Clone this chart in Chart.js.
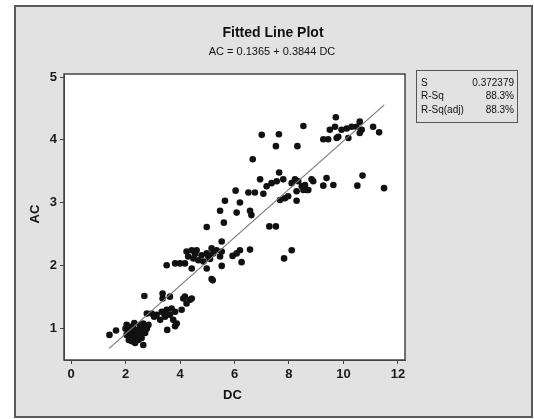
<!DOCTYPE html>
<html>
<head>
<meta charset="utf-8">
<script src="https://cdn.jsdelivr.net/npm/chart.js@4/dist/chart.umd.min.js"></script>
<style>
  body { margin: 0; background: #fff; }
  canvas { display: block; }
</style>
</head>
<body>
<canvas id="plot" width="534" height="419"></canvas>
<script>
const dc = [
  1.41, 1.65, 2.04, 2.17, 2.29, 2.10, 2.23, 2.35, 2.47, 2.17, 2.29, 2.41, 2.53, 2.04, 2.23, 2.35, 2.47, 2.65, 2.59, 2.72,
  2.78, 2.53, 2.65, 2.84, 2.17, 2.69, 3.36, 3.36, 3.63, 2.78, 2.96, 3.14, 3.33, 3.51, 3.69, 3.82, 3.63, 3.45, 3.27, 3.75,
  3.88, 3.53, 3.82, 4.12, 4.24, 4.37, 4.06, 4.18, 4.43, 2.00, 2.32, 2.40, 2.60, 2.12, 2.56, 3.05, 3.40,
  3.51, 3.82, 4.00, 4.18, 4.43, 4.24, 4.30, 4.43, 4.61, 4.49, 4.67, 4.79, 4.86, 4.98, 4.98, 5.04, 5.16, 5.22, 5.34, 5.47,
  5.53, 5.53, 5.53, 5.16, 5.20, 6.26, 6.20, 6.08, 5.93, 6.57, 4.98, 5.61, 5.47, 6.08, 6.57, 6.62, 5.65, 6.20, 6.04, 6.51,
  6.75, 6.94, 6.67, 7.28, 7.52, 7.82, 8.10, 4.55, 5.10,
  7.06, 7.18, 7.36, 7.55, 7.64, 7.79, 8.10, 8.22, 8.34, 8.47, 8.59, 8.65, 8.28, 7.97, 7.85, 7.67, 8.28, 8.53, 8.71, 8.83,
  8.89, 9.38, 9.26, 9.63, 10.51, 10.70, 11.49, 7.00, 7.63, 7.52, 8.31, 8.53, 9.72, 9.50, 9.69, 9.93, 10.12, 10.30, 10.48, 10.60,
  10.67, 11.09, 11.31, 10.60, 10.18, 9.75, 9.81, 9.26, 9.44
]
const ac = [
  0.89, 0.96, 1.05, 1.02, 0.99, 0.94, 0.92, 0.94, 0.97, 0.86, 0.84, 0.86, 0.89, 0.89, 0.79, 0.76, 0.81, 0.73, 0.84, 0.92,
  0.99, 1.05, 1.07, 1.05, 0.97, 1.51, 1.55, 1.47, 1.50, 1.23, 1.23, 1.21, 1.26, 1.29, 1.31, 1.26, 1.21, 1.18, 1.13, 1.13,
  1.07, 0.97, 1.03, 1.47, 1.39, 1.45, 1.29, 1.50, 1.47, 0.99, 1.08, 0.92, 0.96, 0.81, 1.00, 1.18, 1.24,
  2.00, 2.03, 2.03, 2.03, 1.95, 2.22, 2.14, 2.24, 2.24, 2.11, 2.08, 2.16, 2.06, 2.19, 1.95, 2.14, 2.27, 2.19, 2.24, 2.14,
  2.22, 1.99, 2.38, 1.78, 1.76, 2.05, 2.24, 2.19, 2.15, 2.25, 2.61, 2.68, 2.87, 2.84, 2.87, 2.80, 3.03, 3.00, 3.19, 3.16,
  3.16, 3.37, 3.69, 2.62, 2.62, 2.11, 2.24, 2.18, 2.10,
  3.14, 3.26, 3.31, 3.34, 3.48, 3.37, 3.31, 3.37, 3.34, 3.26, 3.28, 3.20, 3.18, 3.10, 3.07, 3.04, 3.03, 3.20, 3.20, 3.37,
  3.34, 3.39, 3.27, 3.28, 3.27, 3.43, 3.23, 4.08, 4.09, 3.90, 3.90, 4.22, 4.36, 4.16, 4.21, 4.16, 4.18, 4.21, 4.21, 4.29,
  4.16, 4.21, 4.12, 4.11, 4.03, 4.03, 4.05, 4.01, 4.01
]

const intercept = 0.1365
const slope = 0.3844
const fitRange = [1.4, 11.5]

const xTicks = [0, 2, 4, 6, 8, 10, 12]
const yTicks = [1, 2, 3, 4, 5]

const statNames = ['S', 'R-Sq', 'R-Sq(adj)']
const statValues = ['0.372379', '88.3%', '88.3%']

const tickFont = { family: 'Liberation Sans', size: 13, weight: 'bold' }

const framePlugin = {
  id: 'frame',
  beforeDraw(chart) {
    const { ctx, chartArea: a } = chart
    ctx.save()
    ctx.fillStyle = '#ffffff'
    ctx.fillRect(0, 0, chart.width, chart.height)
    ctx.fillStyle = '#e2e2e2'
    ctx.fillRect(15, 6, 517, 411)
    ctx.strokeStyle = '#5a5a5a'
    ctx.lineWidth = 2
    ctx.strokeRect(15, 6, 517, 411)
    ctx.fillStyle = '#ffffff'
    ctx.fillRect(a.left, a.top, a.right - a.left, a.bottom - a.top)
    ctx.restore()
  },
  afterDraw(chart) {
    const { ctx, chartArea: a } = chart
    ctx.save()
    ctx.strokeStyle = '#444'
    ctx.lineWidth = 1.5
    ctx.strokeRect(a.left, a.top, a.right - a.left, a.bottom - a.top)

    ctx.fillStyle = '#111'
    ctx.textAlign = 'center'
    ctx.textBaseline = 'middle'
    ctx.font = 'bold 14px "Liberation Sans"'
    ctx.fillText('Fitted Line Plot', 273, 33)
    ctx.font = '11px "Liberation Sans"'
    ctx.fillText('AC = 0.1365 + 0.3844 DC', 272, 52)

    ctx.font = 'bold 13px "Liberation Sans"'
    ctx.fillText('DC', (a.left + a.right) / 2 - 2, 395)
    ctx.save()
    ctx.translate(35, (a.top + a.bottom) / 2 - 3)
    ctx.rotate(-Math.PI / 2)
    ctx.fillText('AC', 0, 0)
    ctx.restore()

    // stats box
    ctx.strokeStyle = '#555'
    ctx.lineWidth = 1
    ctx.strokeRect(416.5, 70.5, 101, 52)
    ctx.font = '10px "Liberation Sans"'
    statNames.forEach((n, i) => {
      const y = 83 + i * 13.5
      ctx.textAlign = 'left'
      ctx.fillText(n, 421, y)
      ctx.textAlign = 'right'
      ctx.fillText(statValues[i], 514, y)
    })
    ctx.restore()
  }
}

const points = dc.map((x, i) => ({ x, y: ac[i] }))
const fitLine = fitRange.map(x => ({ x, y: intercept + slope * x }))

new Chart(document.getElementById('plot'), {
  type: 'scatter',
  data: {
    datasets: [
      {
        type: 'line',
        data: fitLine,
        borderColor: '#7a7a7a',
        borderWidth: 1.2,
        pointRadius: 0,
        order: 0
      },
      {
        data: points,
        backgroundColor: '#111',
        borderWidth: 0,
        pointRadius: 3.3,
        order: 1
      }
    ]
  },
  options: {
    responsive: false,
    animation: false,
    layout: { padding: { left: 24, top: 74, right: 129, bottom: 24 } },
    plugins: {
      legend: { display: false },
      tooltip: { enabled: false }
    },
    scales: {
      x: {
        type: 'linear',
        min: -0.26,
        max: 12.26,
        afterFit: s => { s.height = 35 },
        afterBuildTicks: s => { s.ticks = xTicks.map(v => ({ value: v })) },
        grid: { drawOnChartArea: false, drawTicks: true, tickLength: 4, color: '#444' },
        border: { display: true, color: '#444' },
        ticks: { font: tickFont, color: '#1a1a1a', padding: 3, maxRotation: 0 }
      },
      y: {
        type: 'linear',
        min: 0.49,
        max: 5.05,
        afterFit: s => { s.width = 40 },
        afterBuildTicks: s => { s.ticks = yTicks.map(v => ({ value: v })) },
        grid: { drawOnChartArea: false, drawTicks: true, tickLength: 4, color: '#444' },
        border: { display: true, color: '#444' },
        ticks: { font: tickFont, color: '#1a1a1a', padding: 3 }
      }
    }
  },
  plugins: [framePlugin]
})
</script>
</body>
</html>
